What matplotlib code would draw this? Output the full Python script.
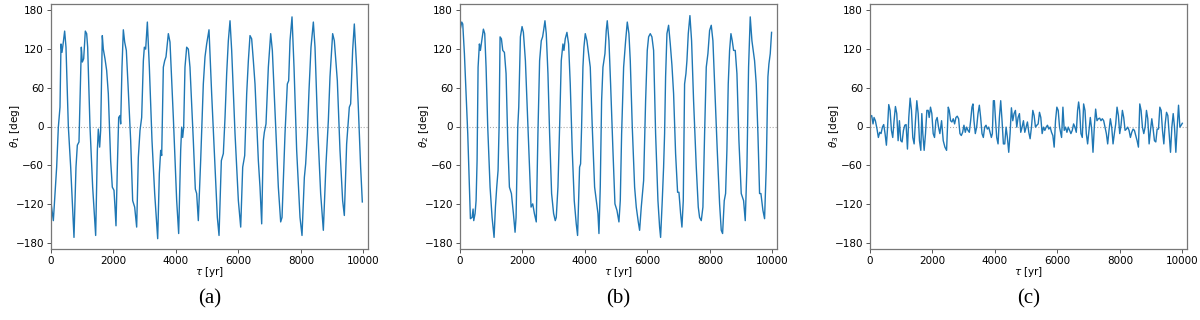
import matplotlib
matplotlib.use("Agg")
import matplotlib.pyplot as plt

# ---------------- data ----------------
t_a = [0, 75, 181, 235, 288, 320, 352, 395, 437, 480, 555, 630, 736, 800, 843, 896, 939, 971,
       1003, 1046, 1099, 1142, 1174, 1249, 1334, 1430, 1484, 1515, 1558, 1590, 1643, 1675, 1729,
       1782, 1835, 1910, 1963, 2017, 2049, 2081, 2124, 2167, 2209, 2231, 2273, 2316, 2359, 2412,
       2465, 2551, 2615, 2679, 2743, 2796, 2850, 2903, 2957, 2989, 3031, 3085, 3149, 3234, 3320,
       3416, 3469, 3512, 3544, 3597, 3640, 3682, 3757, 3810, 3917, 4024, 4088, 4152, 4184, 4216,
       4248, 4290, 4344, 4397, 4450, 4557, 4621, 4664, 4717, 4792, 4877, 4931, 4984, 5059, 5144,
       5251, 5326, 5380, 5454, 5518, 5572, 5625, 5678, 5732, 5785, 5892, 5999, 6074, 6138, 6202,
       6266, 6319, 6372, 6425, 6479, 6532, 6639, 6692, 6746, 6799, 6831, 6884, 6959, 7034, 7087,
       7172, 7279, 7354, 7397, 7493, 7567, 7610, 7653, 7717, 7781, 7866, 7973, 8037, 8112, 8154,
       8208, 8261, 8325, 8400, 8453, 8538, 8634, 8720, 8805, 8880, 8933, 9018, 9072, 9168, 9253,
       9338, 9392, 9466, 9552, 9594, 9658, 9712, 9786, 9840, 9914, 9968]
theta1 = [-118, -146, -63, -1, 30, 128, 115, 131, 148, 123, 0, -63, -172, -63, -29, -24, 61, 123,
          100, 105, 148, 144, 123, -1, -94, -169, -37, -4, -32, -6, 141, 120, 105,
          87, 51, -53, -94, -99, -125, -154, -63, 14, 17, 4, 92, 150, 131, 118,
          66, -22, -115, -125, -156, -48, -6, 14, 102, 123, 120, 162, 92, -22, -104,
          -174, -73, -37, -45, 92, 102, 108, 144, 131, 14, -115, -166, -37, -1, -17,
          -1, 92, 123, 120, 92, -22, -97, -104, -146, -53, 66, 108, 128, 150, 51,
          -63, -141, -169, -53, -42, 14, 82, 133, 164, 118, -11, -115, -156, -63, -45,
          51, 102, 141, 136, 102, 66, -53, -94, -151, -22, -9, 4, 92, 144, 118,
          25, -94, -148, -141, -11, 66, 71, 133, 170, 92, -37, -141, -169, -79, -58,
          -11, 56, 123, 162, 123, -1, -104, -161, -58, 9, 77, 144, 133, 71, -37,
          -115, -138, -27, 30, 35, 118, 159, 92, 30, -63, -117]

t_b = [0, 56, 88, 141, 195, 248, 301, 333, 387, 419, 440, 483, 515, 547, 579, 621, 653, 696, 749,
       792, 835, 888, 963, 1027, 1091, 1134, 1176, 1219, 1251, 1283, 1326, 1369, 1422, 1475, 1529,
       1582, 1646, 1710, 1763, 1795, 1849, 1881, 1934, 1987, 2030, 2094, 2169, 2222, 2275, 2329,
       2382, 2442, 2495, 2549, 2602, 2645, 2677, 2720, 2762, 2816, 2869, 2933, 2997, 3050, 3082,
       3136, 3189, 3242, 3296, 3328, 3370, 3424, 3477, 3530, 3594, 3658, 3722, 3765, 3829, 3861,
       3893, 3936, 3968, 4011, 4064, 4128, 4171, 4235, 4310, 4363, 4417, 4449, 4491, 4534, 4577,
       4641, 4683, 4715, 4769, 4822, 4897, 4961, 5025, 5089, 5132, 5175, 5239, 5303, 5356, 5409,
       5452, 5516, 5591, 5644, 5708, 5751, 5804, 5879, 5943, 5996, 6039, 6092, 6145, 6199, 6263,
       6338, 6391, 6423, 6476, 6519, 6551, 6583, 6626, 6679, 6733, 6786, 6839, 6903, 6967, 7010,
       7063, 7106, 7149, 7191, 7234, 7266, 7309, 7362, 7415, 7479, 7565, 7629, 7671, 7725, 7778,
       7832, 7885, 7938, 7992, 8045, 8098, 8152, 8237, 8312, 8365, 8408, 8461, 8504, 8546, 8589,
       8632, 8675, 8717, 8760, 8813, 8867, 8931, 9005, 9080, 9133, 9187, 9240, 9293, 9347, 9432,
       9485, 9539, 9592, 9635, 9699, 9752, 9806, 9859, 9891, 9934, 9976]
theta2 = [149, 162, 159, 113, 51, -11, -94, -143, -141, -128, -146, -135, -115, -53, 92, 128, 118, 133, 151,
          144, 92, -1, -94, -141, -172, -125, -94, -68, -1, 139, 136, 118, 115, 82, -22,
          -94, -104, -135, -164, -141, -1, 30, 139, 155, 146, 102, 9, -58, -125, -120,
          -135, -148, -11, 102, 133, 139, 149, 164, 144, 82, -11, -104, -135, -146, -141,
          -94, -1, 102, 128, 118, 136, 146, 128, 66, -37, -115, -151, -169, -63, -58,
          -1, 92, 123, 144, 133, 108, 92, -1, -94, -115, -135, -166, -94, 40, 92,
          113, 149, 164, 133, 66, -37, -120, -130, -148, -115, -11, 92, 133, 162, 144,
          102, -1, -94, -125, -148, -161, -125, -84, 40, 118, 139, 144, 139, 118, -11,
          -115, -156, -172, -115, -63, -11, 77, 144, 157, 128, 95, 51, -42, -102, -102,
          -135, -156, -115, 66, 82, 102, 144, 172, 133, 40, -63, -125, -141, -146, -125,
          -11, 92, 113, 149, 157, 133, 66, -37, -120, -161, -166, -115, -104, -37, 66,
          118, 144, 133, 118, 118, 82, -22, -104, -115, -146, -63, 92, 170, 133, 102,
          66, -11, -104, -104, -130, -143, -63, 77, 97, 113, 146]

t_c = [0, 54, 97, 129, 172, 225, 268, 311, 354, 397, 439, 482, 525, 557, 600, 643, 686, 728, 771,
       814, 857, 900, 942, 985, 1028, 1071, 1114, 1156, 1199, 1242, 1285, 1328, 1370, 1413, 1456,
       1499, 1542, 1584, 1627, 1659, 1691, 1734, 1777, 1820, 1863, 1895, 1937, 1980, 2023, 2066,
       2109, 2151, 2194, 2237,
       2292, 2345, 2399, 2452, 2506, 2538, 2580, 2623, 2666, 2709, 2752, 2794, 2837, 2880, 2923,
       2966, 3008, 3051, 3094, 3137, 3180, 3222, 3265, 3297, 3329, 3372, 3415, 3458, 3501, 3543,
       3586, 3629, 3672, 3715, 3757, 3800, 3843, 3886, 3918, 3950, 3982, 4014, 4057, 4100, 4143,
       4185, 4228, 4271, 4314, 4357, 4399, 4442, 4485, 4528, 4571, 4613, 4656, 4699, 4742, 4785,
       4827, 4870, 4913, 4956, 4999, 5041, 5084, 5127, 5170, 5213, 5255, 5298, 5341, 5384, 5427,
       5469, 5512, 5555, 5598, 5641, 5683, 5726, 5769, 5812, 5855, 5897, 5940, 5983, 6026, 6069,
       6134, 6177, 6219, 6262, 6305, 6348, 6391, 6433, 6476, 6519, 6562, 6605, 6647, 6680, 6712,
       6754, 6797, 6840, 6883, 6926, 6968, 7011, 7054, 7097, 7140, 7182, 7225, 7268, 7311, 7354,
       7396, 7439, 7482, 7525, 7568, 7610, 7653, 7696, 7739, 7782, 7824, 7867, 7910, 7953, 7996,
       8038, 8081, 8124, 8167, 8210, 8252, 8295, 8338, 8381, 8424, 8466, 8509, 8552, 8595, 8638,
       8680, 8723, 8766, 8809, 8852, 8894, 8937, 8980, 9023, 9066, 9108, 9151, 9194, 9237, 9280,
       9322, 9365, 9408, 9451, 9494, 9536, 9579, 9622, 9665, 9708, 9750, 9793, 9836, 9879, 9922,
       9964, 10000]
theta3 = [14, 17, 4, 14, 9, -4, -17, -9, -11, -1, 3, -11, -29, -6, 34, 25, -6, -17, 9,
          31, 20, -22, 9, -22, -24, -6, 2, 3, -35, 14, 44, 25, -17, -27, 9,
          40, 20, -22, -37, 20, -11, -37, -11, 25, 25, 14, 30, 20, -11, -17,
          9, 14, -1, -11,
          9, -22, -32, -37, 30, 25, 9, 7, 12, 4, 14, 16, 12, -11, -14,
          -9, 2, -9, -1, -6, -9, 9, 30, 35, 9, -11, -1, 20, 33, 14,
          -11, -17, -1, 2, -4, -1, -9, -17, -11, 40, 40, 14, -17, -27, 14,
          40, 9, -27, -27, -1, -17, -40, -11, 29, 9, 20, 25, -1, 14, 20,
          -9, -1, 9, -9, -1, 7, -9, -19, -1, 25, 17, -1, 2, 4, 22,
          14, -11, -1, -6, -1, 2, -4, -1, -9, -14, -32, 9, 30, 25, -1,
          -17, 30, -6, -1, -9, -1, -6, -11, -6, 4, -1, -9, 25, 38, 25,
          -11, -17, 35, 25, -11, -27, -6, 14, -4, -40, -1, 27, 9, 12, 13,
          9, 12, 9, -1, -11, -27, -6, 12, -1, -27, -11, 4, 30, 17, -11,
          2, 25, 14, -6, -4, -1, -6, -17, -9, -4, -6, -14, -22, -32, 35,
          25, -1, -11, -1, 25, 12, -27, -6, 12, -4, -22, -24, -4, -4, 30,
          25, -6, -27, 4, 22, 17, -11, -40, -1, 20, -1, -40, -1, 33, -1,
          2, 5]

panels = [(t_a, theta1, r"$\theta_1$ [deg]", "(a)"),
          (t_b, theta2, r"$\theta_2$ [deg]", "(b)"),
          (t_c, theta3, r"$\theta_3$ [deg]", "(c)")]
yticks = [-180, -120, -60, 0, 60, 120, 180]
xticks = [0, 2000, 4000, 6000, 8000, 10000]

# ---------------- figure ----------------
fig = plt.figure(figsize=(12, 3.2), dpi=100)
lefts = [51 / 1200, 460 / 1200, 870 / 1200]
bottom = 71 / 320
height = 245 / 320
width = 317 / 1200

for left, (t, th, ylab, cap) in zip(lefts, panels):
    ax = fig.add_axes([left, bottom, width, height])
    ax.axhline(0, color="#aaaaaa", lw=0.8, ls=":", zorder=1)
    ax.plot(t, th, color="#1f77b4", lw=1.0, zorder=2)
    ax.set_xlim(0, 10150)
    ax.set_ylim(-190, 190)
    ax.set_yticks(yticks)
    ax.set_xticks(xticks)
    ax.tick_params(labelsize=7.5, length=3, width=0.7, color="#555555", pad=2)
    for sp in ax.spines.values():
        sp.set_color("#777777")
        sp.set_linewidth(0.9)
    ax.set_ylabel(ylab, fontsize=7.5, labelpad=-4.5)
    ax.set_xlabel(r"$\tau$ [yr]", fontsize=7.5, labelpad=-1)
    fig.text(left + width / 2, 21 / 320, cap, ha="center", va="center",
             fontsize=15, family="Liberation Serif")

fig.savefig("out.png", dpi=100)
